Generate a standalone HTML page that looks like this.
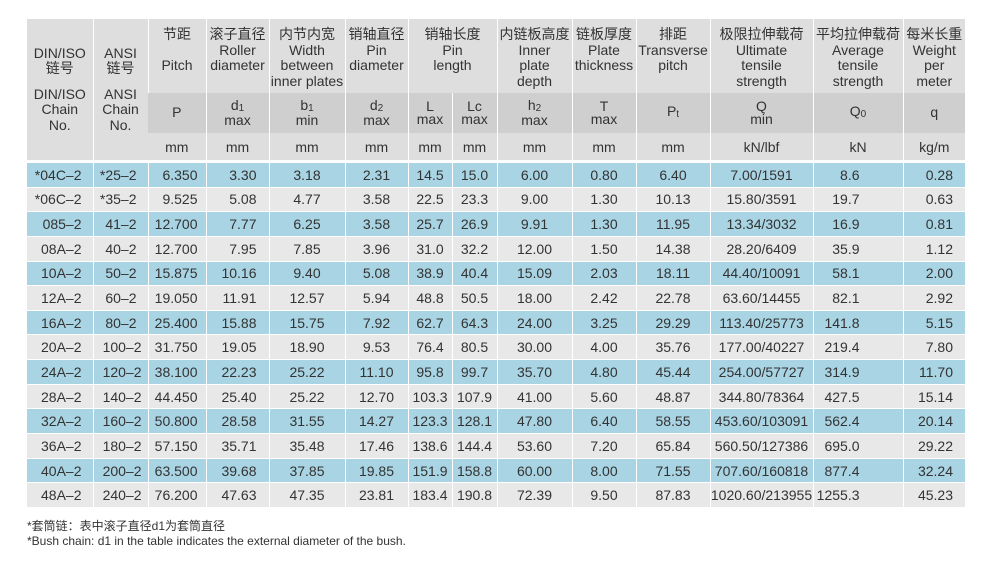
<!DOCTYPE html>
<html><head><meta charset="utf-8"><style>
html,body{margin:0;padding:0;background:#fff;width:991px;height:563px;overflow:hidden}
body{font-family:"Liberation Sans","Noto Sans CJK SC",sans-serif;color:#333}
table{position:absolute;left:27px;top:19px;border-collapse:collapse;table-layout:fixed;width:938px}
td{padding:0;font-size:14px;text-align:center;white-space:nowrap;overflow:hidden;border-left:1px solid rgba(255,255,255,.6)}
td:first-child{border-left:none}
tr.h1 td{background:#dedede;height:74px;vertical-align:top;line-height:15.5px;padding-top:8px;box-sizing:border-box}
tr.h2 td{background:#cfcfcf;height:40px;line-height:13.5px;vertical-align:middle}
tr.h3 td{background:#dedede;height:27px;vertical-align:middle}
tr.gap td{height:3px;background:#fff;border-left:none}
td.lead{background:#dedede !important;vertical-align:middle !important;padding-top:0 !important;line-height:16.5px}
tr.d td{height:23.65px;border-bottom:1px solid #fff;vertical-align:middle}
tr.b td{background:#a9d4e4}
tr.w td{background:#e8e8e8}
.r{text-align:right;padding-right:11px}
sub{font-size:10px;vertical-align:baseline;position:relative;top:1px}
.foot{position:absolute;left:27px;font-size:12px;color:#333}
</style></head><body>
<table>
<colgroup><col style="width:66px"><col style="width:55px"><col style="width:58px"><col style="width:63px"><col style="width:76px"><col style="width:63px"><col style="width:44px"><col style="width:45px"><col style="width:75px"><col style="width:64px"><col style="width:74px"><col style="width:103px"><col style="width:90px"><col style="width:62px"></colgroup>
<tr class="h1">
<td rowspan="3" class="lead">DIN/ISO<br>链号<br><div style="height:10px"></div>DIN/ISO<br>Chain<br>No.</td>
<td rowspan="3" class="lead">ANSI<br>链号<br><div style="height:10px"></div>ANSI<br>Chain<br>No.</td>
<td>节距<br><br>Pitch</td>
<td>滚子直径<br>Roller<br>diameter</td>
<td>内节内宽<br>Width<br>between<br>inner plates</td>
<td>销轴直径<br>Pin<br>diameter</td>
<td colspan="2">销轴长度<br>Pin<br>length</td>
<td>内链板高度<br>Inner<br>plate<br>depth</td>
<td>链板厚度<br>Plate<br>thickness</td>
<td>排距<br>Transverse<br>pitch</td>
<td>极限拉伸载荷<br>Ultimate<br>tensile<br>strength</td>
<td>平均拉伸载荷<br>Average<br>tensile<br>strength</td>
<td>每米长重<br>Weight<br>per<br>meter</td>
</tr>
<tr class="h2">
<td>P</td><td>d<sub>1</sub><br>max</td><td>b<sub>1</sub><br>min</td><td>d<sub>2</sub><br>max</td><td>L<br>max</td><td>Lc<br>max</td><td>h<sub>2</sub><br>max</td><td>T<br>max</td><td>P<sub>t</sub></td><td>Q<br>min</td><td>Q<sub>0</sub></td><td>q</td>
</tr>
<tr class="h3">
<td>mm</td><td>mm</td><td>mm</td><td>mm</td><td>mm</td><td>mm</td><td>mm</td><td>mm</td><td>mm</td><td>kN/lbf</td><td>kN</td><td>kg/m</td>
</tr>
<tr class="gap"><td colspan="14"></td></tr>
<tr class="d b"><td class="r">*04C–2</td><td class="r">*25–2</td><td class="r" style="padding-right:8px">6.350</td><td class="r" style="padding-right:12px">3.30</td><td>3.18</td><td>2.31</td><td>14.5</td><td>15.0</td><td>6.00</td><td>0.80</td><td>6.40</td><td>7.00/1591</td><td class="r" style="padding-right:43px">8.6</td><td class="r" style="padding-right:12px">0.28</td></tr>
<tr class="d w"><td class="r">*06C–2</td><td class="r">*35–2</td><td class="r" style="padding-right:8px">9.525</td><td class="r" style="padding-right:12px">5.08</td><td>4.77</td><td>3.58</td><td>22.5</td><td>23.3</td><td>9.00</td><td>1.30</td><td>10.13</td><td>15.80/3591</td><td class="r" style="padding-right:43px">19.7</td><td class="r" style="padding-right:12px">0.63</td></tr>
<tr class="d b"><td class="r">085–2</td><td class="r">41–2</td><td class="r" style="padding-right:8px">12.700</td><td class="r" style="padding-right:12px">7.77</td><td>6.25</td><td>3.58</td><td>25.7</td><td>26.9</td><td>9.91</td><td>1.30</td><td>11.95</td><td>13.34/3032</td><td class="r" style="padding-right:43px">16.9</td><td class="r" style="padding-right:12px">0.81</td></tr>
<tr class="d w"><td class="r">08A–2</td><td class="r">40–2</td><td class="r" style="padding-right:8px">12.700</td><td class="r" style="padding-right:12px">7.95</td><td>7.85</td><td>3.96</td><td>31.0</td><td>32.2</td><td>12.00</td><td>1.50</td><td>14.38</td><td>28.20/6409</td><td class="r" style="padding-right:43px">35.9</td><td class="r" style="padding-right:12px">1.12</td></tr>
<tr class="d b"><td class="r">10A–2</td><td class="r">50–2</td><td class="r" style="padding-right:8px">15.875</td><td class="r" style="padding-right:12px">10.16</td><td>9.40</td><td>5.08</td><td>38.9</td><td>40.4</td><td>15.09</td><td>2.03</td><td>18.11</td><td>44.40/10091</td><td class="r" style="padding-right:43px">58.1</td><td class="r" style="padding-right:12px">2.00</td></tr>
<tr class="d w"><td class="r">12A–2</td><td class="r">60–2</td><td class="r" style="padding-right:8px">19.050</td><td class="r" style="padding-right:12px">11.91</td><td>12.57</td><td>5.94</td><td>48.8</td><td>50.5</td><td>18.00</td><td>2.42</td><td>22.78</td><td>63.60/14455</td><td class="r" style="padding-right:43px">82.1</td><td class="r" style="padding-right:12px">2.92</td></tr>
<tr class="d b"><td class="r">16A–2</td><td class="r">80–2</td><td class="r" style="padding-right:8px">25.400</td><td class="r" style="padding-right:12px">15.88</td><td>15.75</td><td>7.92</td><td>62.7</td><td>64.3</td><td>24.00</td><td>3.25</td><td>29.29</td><td>113.40/25773</td><td class="r" style="padding-right:43px">141.8</td><td class="r" style="padding-right:12px">5.15</td></tr>
<tr class="d w"><td class="r">20A–2</td><td class="r" style="padding-right:6px">100–2</td><td class="r" style="padding-right:8px">31.750</td><td class="r" style="padding-right:12px">19.05</td><td>18.90</td><td>9.53</td><td>76.4</td><td>80.5</td><td>30.00</td><td>4.00</td><td>35.76</td><td>177.00/40227</td><td class="r" style="padding-right:43px">219.4</td><td class="r" style="padding-right:12px">7.80</td></tr>
<tr class="d b"><td class="r">24A–2</td><td class="r" style="padding-right:6px">120–2</td><td class="r" style="padding-right:8px">38.100</td><td class="r" style="padding-right:12px">22.23</td><td>25.22</td><td>11.10</td><td>95.8</td><td>99.7</td><td>35.70</td><td>4.80</td><td>45.44</td><td>254.00/57727</td><td class="r" style="padding-right:43px">314.9</td><td class="r" style="padding-right:12px">11.70</td></tr>
<tr class="d w"><td class="r">28A–2</td><td class="r" style="padding-right:6px">140–2</td><td class="r" style="padding-right:8px">44.450</td><td class="r" style="padding-right:12px">25.40</td><td>25.22</td><td>12.70</td><td>103.3</td><td>107.9</td><td>41.00</td><td>5.60</td><td>48.87</td><td>344.80/78364</td><td class="r" style="padding-right:43px">427.5</td><td class="r" style="padding-right:12px">15.14</td></tr>
<tr class="d b"><td class="r">32A–2</td><td class="r" style="padding-right:6px">160–2</td><td class="r" style="padding-right:8px">50.800</td><td class="r" style="padding-right:12px">28.58</td><td>31.55</td><td>14.27</td><td>123.3</td><td>128.1</td><td>47.80</td><td>6.40</td><td>58.55</td><td>453.60/103091</td><td class="r" style="padding-right:43px">562.4</td><td class="r" style="padding-right:12px">20.14</td></tr>
<tr class="d w"><td class="r">36A–2</td><td class="r" style="padding-right:6px">180–2</td><td class="r" style="padding-right:8px">57.150</td><td class="r" style="padding-right:12px">35.71</td><td>35.48</td><td>17.46</td><td>138.6</td><td>144.4</td><td>53.60</td><td>7.20</td><td>65.84</td><td>560.50/127386</td><td class="r" style="padding-right:43px">695.0</td><td class="r" style="padding-right:12px">29.22</td></tr>
<tr class="d b"><td class="r">40A–2</td><td class="r" style="padding-right:6px">200–2</td><td class="r" style="padding-right:8px">63.500</td><td class="r" style="padding-right:12px">39.68</td><td>37.85</td><td>19.85</td><td>151.9</td><td>158.8</td><td>60.00</td><td>8.00</td><td>71.55</td><td>707.60/160818</td><td class="r" style="padding-right:43px">877.4</td><td class="r" style="padding-right:12px">32.24</td></tr>
<tr class="d w"><td class="r">48A–2</td><td class="r" style="padding-right:6px">240–2</td><td class="r" style="padding-right:8px">76.200</td><td class="r" style="padding-right:12px">47.63</td><td>47.35</td><td>23.81</td><td>183.4</td><td>190.8</td><td>72.39</td><td>9.50</td><td>87.83</td><td>1020.60/213955</td><td class="r" style="padding-right:43px">1255.3</td><td class="r" style="padding-right:12px">45.23</td></tr>
</table>
<div class="foot" style="top:517px">*套筒链：表中滚子直径d1为套筒直径</div>
<div class="foot" style="top:534px">*Bush chain: d1 in the table indicates the external diameter of the bush.</div>
</body></html>
